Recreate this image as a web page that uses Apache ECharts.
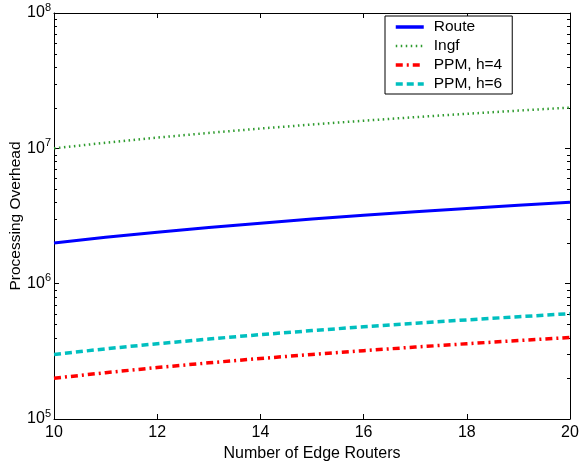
<!DOCTYPE html>
<html>
<head>
<meta charset="utf-8">
<script src="https://cdn.jsdelivr.net/npm/echarts@6/dist/echarts.min.js"></script>
<style>
  html, body { margin: 0; padding: 0; background: #fff; }
  #chart { width: 586px; height: 466px; }
</style>
</head>
<body>
<div id="chart"></div>
<script>
// data
const routers = [10, 11, 12, 13, 14, 15, 16, 17, 18, 19, 20];
const routeVals = [2.0e6, 2.2e6, 2.4e6, 2.6e6, 2.8e6, 3.0e6, 3.2e6, 3.4e6, 3.6e6, 3.8e6, 4.0e6];
const ingfVals = [1.0e7, 1.1e7, 1.2e7, 1.3e7, 1.4e7, 1.5e7, 1.6e7, 1.7e7, 1.8e7, 1.9e7, 2.0e7];
const ppm4Vals = [2.0e5, 2.2e5, 2.4e5, 2.6e5, 2.8e5, 3.0e5, 3.2e5, 3.4e5, 3.6e5, 3.8e5, 4.0e5];
const ppm6Vals = [3.0e5, 3.3e5, 3.6e5, 3.9e5, 4.2e5, 4.5e5, 4.8e5, 5.1e5, 5.4e5, 5.7e5, 6.0e5];
const minorTicks = [2e5, 3e5, 4e5, 5e5, 6e5, 7e5, 8e5, 9e5,
                    2e6, 3e6, 4e6, 5e6, 6e6, 7e6, 8e6, 9e6,
                    2e7, 3e7, 4e7, 5e7, 6e7, 7e7, 8e7, 9e7];

const FONT = "'Liberation Sans', Arial, sans-serif";
const chart = echarts.init(document.getElementById("chart"));

const pairs = (ys) => routers.map((x, i) => [x, ys[i]]);

const yLabel = {
  fontFamily: FONT,
  margin: 3,
  formatter: function (v) {
    const e = Math.round(Math.log10(v));
    return "{b|10}{s|" + e + "}";
  },
  rich: {
    b: { fontSize: 16, fontFamily: FONT, color: "#000" },
    s: { fontSize: 11, fontFamily: FONT, color: "#000", padding: [0, 0, 11, 0] },
  },
};

const tickStyle = { inside: true, length: 5, lineStyle: { color: "#000" } };
const lineAx = { lineStyle: { color: "#000", width: 1 } };

const option = {
  animation: false,
  backgroundColor: "#fff",
  grid: { left: 54, right: 16, top: 13, bottom: 47, outerBoundsMode: "none" },
  legend: {
    orient: "vertical",
    left: 385,
    top: 16,
    padding: [3, 10, 2, 9],
    itemGap: 3,
    itemWidth: 28,
    itemHeight: 15,
    borderColor: "#000",
    borderWidth: 1,
    borderRadius: 0,
    backgroundColor: "#fff",
    itemStyle: { opacity: 0 },
    textStyle: { fontFamily: FONT, fontSize: 15.5, color: "#000", padding: [0, 0, 0, 5] },
    data: [
      { name: "Route", lineStyle: { width: 3.5 } },
      { name: "Ingf", lineStyle: { width: 2.5 } },
      { name: "PPM, h=4", lineStyle: { width: 3.5 } },
      { name: "PPM, h=6", lineStyle: { width: 3.5 } },
    ],
  },
  xAxis: [
    {
      type: "value",
      min: 10,
      max: 20,
      interval: 2,
      name: "Number of Edge Routers",
      nameLocation: "middle",
      nameGap: 27,
      nameMoveOverlap: false,
      nameTextStyle: { fontFamily: FONT, fontSize: 16, color: "#000" },
      axisLine: lineAx,
      axisTick: tickStyle,
      axisLabel: { fontFamily: FONT, fontSize: 16, color: "#000", margin: 6 },
      splitLine: { show: false },
    },
    {
      type: "value",
      position: "top",
      min: 10,
      max: 20,
      interval: 2,
      axisLine: lineAx,
      axisTick: tickStyle,
      axisLabel: { show: false },
      splitLine: { show: false },
    },
  ],
  yAxis: [
    {
      type: "log",
      logBase: 10,
      min: 1e5,
      max: 1e8,
      name: "Processing Overhead",
      nameLocation: "middle",
      nameGap: 30,
      nameMoveOverlap: false,
      nameTextStyle: { fontFamily: FONT, fontSize: 15.5, color: "#000" },
      axisLine: lineAx,
      axisTick: tickStyle,
      axisLabel: yLabel,
      splitLine: { show: false },
    },
    {
      type: "log",
      logBase: 10,
      min: 1e5,
      max: 1e8,
      position: "right",
      axisLine: lineAx,
      axisTick: tickStyle,
      axisLabel: { show: false },
      splitLine: { show: false },
    },
  ],
  series: [
    {
      name: "Route",
      type: "line",
      symbol: "none",
      color: "#0000ff",
      lineStyle: { color: "#0000ff", width: 3 },
      data: pairs(routeVals),
      z: 4,
    },
    {
      name: "Ingf",
      type: "line",
      symbol: "none",
      color: "#2e9b2e",
      lineStyle: { color: "#2e9b2e", width: 2.5, type: [1.5, 3.5] },
      data: pairs(ingfVals),
      z: 3,
    },
    {
      name: "PPM, h=4",
      type: "line",
      symbol: "none",
      color: "#ff0000",
      lineStyle: { color: "#ff0000", width: 3.5, type: [7, 4, 2, 4] },
      data: pairs(ppm4Vals),
      z: 3,
    },
    {
      name: "PPM, h=6",
      type: "line",
      symbol: "none",
      color: "#00bfbf",
      lineStyle: { color: "#00bfbf", width: 3.5, type: [7, 4] },
      data: pairs(ppm6Vals),
      z: 3,
    },
    {
      // minor ticks of the log axis, both sides
      type: "custom",
      silent: true,
      data: minorTicks.map((v) => [10, v]),
      renderItem: function (params, api) {
        const p = api.coord([10, api.value(1)]);
        const q = api.coord([20, api.value(1)]);
        const y = Math.round(p[1]) + 0.5;
        return {
          type: "group",
          children: [
            { type: "line", shape: { x1: p[0], y1: y, x2: p[0] + 3, y2: y }, style: { stroke: "#000", lineWidth: 1 } },
            { type: "line", shape: { x1: q[0] - 3, y1: y, x2: q[0], y2: y }, style: { stroke: "#000", lineWidth: 1 } },
          ],
        };
      },
      z: 2,
    },
  ],
};

chart.setOption(option);
</script>
</body>
</html>
